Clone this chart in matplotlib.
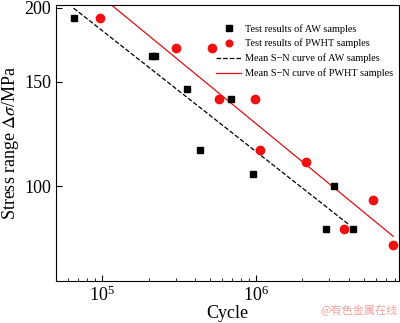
import numpy as np
import matplotlib
matplotlib.use("Agg")
from matplotlib import pyplot as plt
from matplotlib.ticker import FixedLocator, LogLocator, NullLocator, FixedFormatter, LogFormatterMathtext

# test data
aw_cycles = [6.5e4, 2.10e5, 2.19e5, 3.57e5, 4.33e5, 6.9e5, 9.6e5, 3.2e6, 2.85e6, 4.3e6]
aw_stress = [192, 166, 166, 146, 115, 140.5, 105, 100, 84.7, 84.7]
pwht_cycles = [9.6e4, 3.03e5, 5.2e5, 5.75e5, 9.9e5, 1.06e6, 2.11e6, 3.72e6, 5.8e6, 7.8e6]
pwht_stress = [192, 171, 171, 140.5, 140.5, 115, 110, 84.7, 94.7, 79.6]

# mean S-N curves (end points)
aw_fit_cycles = [6.5e4, 4.0e6]
aw_fit_stress = [199.6, 86.3]
pwht_fit_cycles = [1.0e5, 7.8e6]
pwht_fit_stress = [208, 82.4]

y_ticks = [100, 150, 200]

plt.rcParams['font.family'] = ['Liberation Serif', 'DejaVu Serif']
plt.rcParams['mathtext.fontset'] = 'stix'

fig = plt.figure(figsize=(4, 3.23), dpi=100)
ax = fig.add_axes([0.14, 0.13, 0.8575, 0.8545])

ax.plot(aw_cycles, aw_stress, 's', color='black', markersize=5, label='Test results of AW samples', zorder=3)
ax.plot(pwht_cycles, pwht_stress, 'o', color='#ee1111', markersize=6, label='Test results of PWHT samples', zorder=3)
ax.plot(aw_fit_cycles, aw_fit_stress, '--', color='black', linewidth=0.9, label='Mean S\u2212N curve of AW samples')
ax.plot(pwht_fit_cycles, pwht_fit_stress, '-', color='#dd1111', linewidth=0.9, label='Mean S\u2212N curve of PWHT samples')

ax.set_xscale('log')
ax.set_yscale('log')
ax.set_xlim(5e4, 8.5e6)
ax.set_ylim(69.3, 202)

ax.xaxis.set_major_locator(LogLocator(base=10))
ax.xaxis.set_major_formatter(LogFormatterMathtext())
ax.xaxis.set_minor_locator(LogLocator(base=10, subs=np.arange(2, 10)))
ax.yaxis.set_major_locator(FixedLocator(y_ticks))
ax.yaxis.set_major_formatter(FixedFormatter([str(t) for t in y_ticks]))
ax.yaxis.set_minor_locator(NullLocator())

ax.tick_params(which='both', direction='in', labelsize=13)
ax.tick_params(which='major', length=4)
ax.tick_params(which='minor', length=2.5)
ax.xaxis.set_minor_formatter(plt.NullFormatter())

ax.set_xlabel('Cycle', fontsize=13, labelpad=0)
ax.set_ylabel(r'Stress range $\Delta\sigma$/MPa', fontsize=13, labelpad=2)

ax.legend(loc='upper right', fontsize=7.4, frameon=False, handlelength=2.4,
          handletextpad=0.4, labelspacing=0.5, markerscale=0.8,
          bbox_to_anchor=(1.01, 0.965))

fig.text(0.995, 0.02, '@有色金属在线', color='#f2a0a0', fontsize=8, ha='right', va='bottom',
         family=['Noto Sans CJK SC', 'DejaVu Sans'])

fig.savefig('out.png', dpi=100)
